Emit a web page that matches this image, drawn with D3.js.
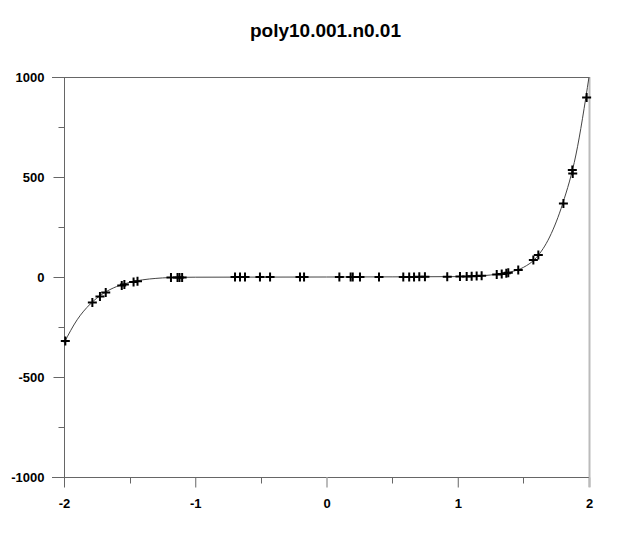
<!DOCTYPE html>
<html>
<head>
<meta charset="utf-8">
<script src="https://cdn.jsdelivr.net/npm/d3@7"></script>
<style>
  body { margin: 0; background: #fff; }
  svg { display: block; font-family: "Liberation Sans", Arial, sans-serif; }
</style>
</head>
<body>
<svg id="chart"></svg>
<script>
const title = "poly10.001.n0.01";

// sample points (+ markers)
const pointX = [-1.99, -1.784, -1.726, -1.682, -1.56, -1.54, -1.47, -1.44,
  -1.185, -1.135, -1.12, -1.1, -0.697, -0.659, -0.621, -0.507, -0.43, -0.202, -0.171,
  0.098, 0.184, 0.2, 0.255, 0.4, 0.585, 0.63, 0.667, 0.707, 0.75, 0.92,
  1.017, 1.068, 1.106, 1.144, 1.182, 1.297, 1.335, 1.37, 1.385, 1.461,
  1.576, 1.614, 1.805, 1.873, 1.876, 1.982];
const pointY = [-320, -127, -98, -77, -42, -38, -25, -21,
  -3, -2, -2, -2, 0, 0, 0, 0, 0, 0, 0,
  0, 0, 0, 0, 0, 0, 0, 0, 1, 1, 1,
  2, 3, 4, 5, 6, 13, 15, 19, 21, 35,
  85, 110, 368, 535, 518, 897];

// fitted curve
const curveX = [-2, -1.9, -1.8, -1.7, -1.6, -1.5, -1.4, -1.3, -1.2, -1, 0, 1, 1.2, 1.3, 1.4, 1.5, 1.6, 1.7, 1.8, 1.9, 2];
const curveY = [-330, -214, -135, -82, -48, -27, -14, -7, -3, -1, 0, 2, 7, 14, 25, 48, 98, 200, 368, 610, 1000];

const xTicks = [-2, -1, 0, 1, 2];
const xMinor = [-1.5, -0.5, 0.5, 1.5];
const yTicks = [-1000, -500, 0, 500, 1000];
const yMinor = [-750, -250, 250, 750];

const width = 620, height = 550;
const padLeft = 64, padRight = 589, padTop = 77, padBottom = 477;

const svg = d3.select("#chart").attr("width", width).attr("height", height);

const xScale = d3.scaleLinear().domain([-2, 2]).range([padLeft, padRight]);
const yScale = d3.scaleLinear().domain([-1000, 1000]).range([padBottom, padTop]);

// plain hyphen for negatives, like the original
const fmt = d => String(d);

// frame lines
svg.append("line")
   .attr("x1", padLeft - 12).attr("x2", padRight).attr("y1", padTop + 0.5).attr("y2", padTop + 0.5)
   .attr("stroke", "#666");
svg.append("line")
   .attr("x1", padRight + 0.5).attr("x2", padRight + 0.5).attr("y1", padTop).attr("y2", padBottom + 10)
   .attr("stroke", "#bbb").attr("stroke-width", 2);

// y axis
const yAxis = d3.axisLeft(yScale).tickValues(yTicks).tickSize(11).tickPadding(9)
                .tickFormat(fmt);
const gy = svg.append("g")
   .attr("transform", `translate(${padLeft + 0.5},0)`)
   .call(yAxis);
gy.selectAll(".tick line").attr("stroke", "#666");
gy.select(".domain").attr("stroke", "#666").attr("d", `M0,${padTop}V${padBottom + 10}`);
gy.selectAll("text").attr("font-size", 13).attr("font-weight", "bold")
  .attr("fill", "#000").attr("font-family", "Liberation Sans, Arial, sans-serif");
svg.append("g")
   .attr("transform", `translate(${padLeft + 0.5},0)`)
   .selectAll("line").data(yMinor).enter().append("line")
   .attr("x1", -6).attr("x2", 0)
   .attr("y1", d => Math.round(yScale(d)) + 0.5).attr("y2", d => Math.round(yScale(d)) + 0.5)
   .attr("stroke", "#666");

// x axis
const xAxis = d3.axisBottom(xScale).tickValues(xTicks).tickSize(10).tickPadding(11)
                .tickFormat(fmt);
const gx = svg.append("g")
   .attr("transform", `translate(0,${padBottom + 0.5})`)
   .call(xAxis);
gx.selectAll(".tick line").attr("stroke", (d) => (d === 0 || d === 2) ? "#bbb" : "#666")
  .attr("stroke-width", (d) => (d === 0 || d === 2) ? 2 : 1);
gx.select(".domain").attr("stroke", "#666").attr("d", `M${padLeft - 12},0H${padRight}`);
gx.selectAll("text").attr("font-size", 13).attr("font-weight", "bold")
  .attr("fill", "#000").attr("font-family", "Liberation Sans, Arial, sans-serif");
svg.append("g")
   .attr("transform", `translate(0,${padBottom + 0.5})`)
   .selectAll("line").data(xMinor).enter().append("line")
   .attr("x1", d => Math.round(xScale(d)) + 0.5).attr("x2", d => Math.round(xScale(d)) + 0.5)
   .attr("y1", 0).attr("y2", 6)
   .attr("stroke", "#666");

// curve
const line = d3.line()
   .x((d, i) => xScale(d))
   .y((d, i) => yScale(curveY[i]))
   .curve(d3.curveMonotoneX);
svg.append("path")
   .attr("d", line(curveX))
   .attr("fill", "none")
   .attr("stroke", "#444")
   .attr("stroke-width", 1);

// points
const points = pointX.map((x, i) => ({ x: x, y: pointY[i] }));
svg.selectAll(".pt")
   .data(points)
   .enter()
   .append("path")
   .attr("class", "pt")
   .attr("transform", d => `translate(${xScale(d.x)},${yScale(d.y)})`)
   .attr("d", "M-4.5,0H4.5M0,-4.5V4.5")
   .attr("stroke", "#000")
   .attr("stroke-width", 2);

// title
svg.append("text")
   .attr("x", 325.5).attr("y", 37)
   .attr("text-anchor", "middle")
   .attr("font-size", 19).attr("font-weight", "bold")
   .text(title);
</script>
</body>
</html>
